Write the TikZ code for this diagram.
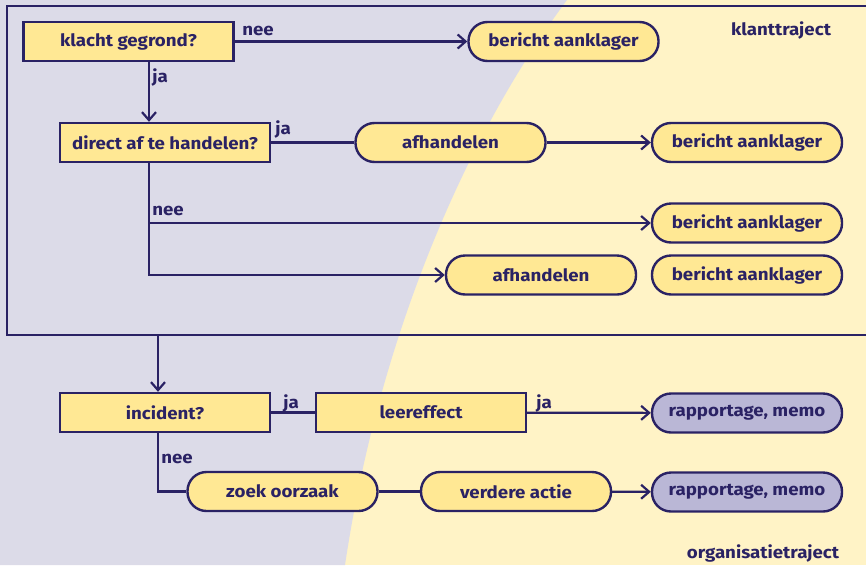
\documentclass[tikz,border=0pt]{standalone}
\usepackage{fontspec}
\setmainfont[FakeStretch=1.1]{Fira Sans}
\usetikzlibrary{arrows.meta}
\definecolor{navy}{RGB}{42,34,100}
\definecolor{lav}{RGB}{220,219,232}
\definecolor{cream}{RGB}{255,243,198}
\definecolor{boxyel}{RGB}{255,232,148}
\definecolor{boxpur}{RGB}{186,183,214}
\tikzset{
  txt/.style={font=\bfseries\fontsize{17}{20}\selectfont, text=navy},
  question/.style={txt, draw=navy, line width=2.4pt, fill=boxyel, rectangle,
    minimum width=210pt, minimum height=39pt, inner sep=0pt},
  action/.style={txt, draw=navy, line width=2.4pt, fill=boxyel, rectangle,
    rounded corners=19pt, minimum width=190pt, minimum height=39pt, inner sep=0pt},
  report/.style={action, fill=boxpur},
  flow/.style={draw=navy, line width=2.2pt},
  arr/.style={flow, -{Straight Barb[length=8pt,width=14pt,line width=2.2pt]}},
  lbl/.style={txt, inner sep=0pt},
}
\begin{document}
\begin{tikzpicture}[x=1pt,y=-1pt]
\useasboundingbox (0,0) rectangle (866,565);
\clip (0,0) rectangle (866,565);
% two background zones
\fill[cream] (0,0) rectangle (866,565);
\fill[lav] (0,0) -- (567,0) .. controls (470,130) and (380,330) .. (345,565) -- (0,565) -- cycle;

% frame of the customer track
\node[draw=navy, line width=2.4pt, minimum width=880pt, minimum height=329pt,
  inner sep=0pt, anchor=north west] (frame) at (6,5) {};

% customer track
\node[question] (q1) at (128.5,41.5) {klacht gegrond?};
\node[action]   (b1) at (563.5,41.5) {bericht aanklager};
\node[question] (q2) at (165,142.5) {direct af te handelen?};
\node[action]   (a1) at (450.5,142.5) {afhandelen};
\node[action]   (b2) at (747,142.5) {bericht aanklager};
\node[action]   (b3) at (747,223) {bericht aanklager};
\node[action]   (a2) at (541,275) {afhandelen};
\node[action]   (b4) at (747,275) {bericht aanklager};

% organisation track
\node[question] (q3) at (165,412.5) {incident?};
\node[question] (l1) at (421,412.5) {leereffect};
\node[report]   (r1) at (747,413) {rapportage, memo};
\node[action]   (z1) at (282.5,491.5) {zoek oorzaak};
\node[action]   (v1) at (516,491.5) {verdere actie};
\node[report]   (r2) at (747,492) {rapportage, memo};

% vertical trunk positions
\coordinate (c1) at (149,0);
\coordinate (c2) at (158,0);

% connectors
\draw[arr] (q1) -- (b1);
\draw[arr] (q1.south -| c1) -- (q2.north -| c1);
\draw[flow] (q2) -- (a1);
\draw[arr] (a1) -- (b2);
\draw[arr] (q2.south -| c1) |- (a2.west);
\draw[arr] (c1 |- b3.west) -- (b3.west);
\draw[arr] (frame.south -| c2) -- (q3.north -| c2);
\draw[flow] (q3) -- (l1);
\draw[arr] (l1) -- (r1);
\draw[flow] (q3.south -| c2) |- (z1.west);
\draw[flow] (z1) -- (v1);
\draw[arr] (v1) -- (r2);

% branch labels
\node[lbl] (n1) at (258,31) {nee};
\node[lbl] (j1) at (160,77) {ja};
\node[lbl] (j2) at (283,129) {ja};
\node[lbl] (n2) at (168,211) {nee};
\node[lbl] (j3) at (291,403) {ja};
\node[lbl] (j4) at (544,403) {ja};
\node[lbl] (n3) at (177,459) {nee};

% track titles
\node[lbl] (t1) at (781,30) {klanttraject};
\node[lbl] (t2) at (763,553) {organisatietraject};
\end{tikzpicture}
\end{document}
